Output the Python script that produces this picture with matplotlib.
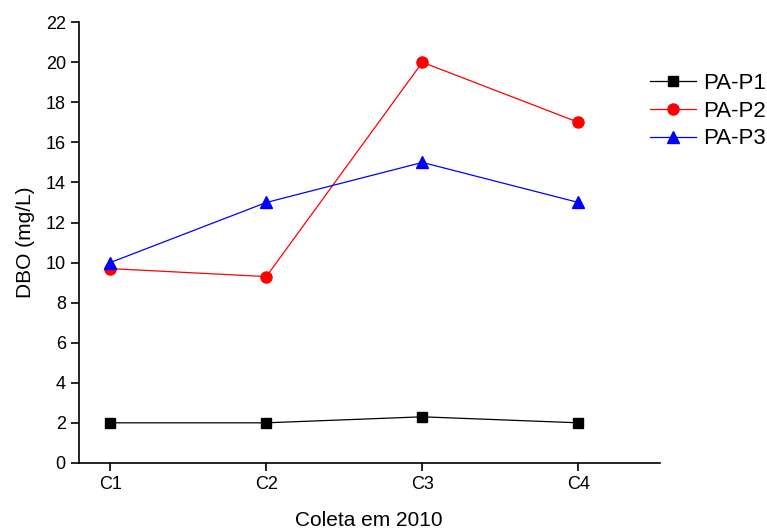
import matplotlib.pyplot as plt

# data
coletas = ['C1', 'C2', 'C3', 'C4']
pa_p1 = [2.0, 2.0, 2.3, 2.0]
pa_p2 = [9.7, 9.3, 20.0, 17.0]
pa_p3 = [10.0, 13.0, 15.0, 13.0]

plt.rcParams['font.family'] = ['Liberation Sans', 'DejaVu Sans']

fig = plt.figure(figsize=(7.67, 5.29), dpi=100)
ax = fig.add_axes([0.103, 0.125, 0.757, 0.833])

x = range(1, len(coletas) + 1)
ax.plot(x, pa_p1, color='black', marker='s', markersize=7, linewidth=0.9, label='PA-P1')
ax.plot(x, pa_p2, color='red', marker='o', markersize=8, linewidth=0.9, label='PA-P2')
ax.plot(x, pa_p3, color='blue', marker='^', markersize=8, linewidth=0.9, label='PA-P3')

ax.set_xlim(0.8, 4.52)
ax.set_ylim(0, 22)
ax.set_yticks(range(0, 23, 2))
ax.set_xticks(list(x))
ax.set_xticklabels(coletas)

for s in ['top', 'right']:
    ax.spines[s].set_visible(False)
for s in ['left', 'bottom']:
    ax.spines[s].set_linewidth(1.2)
ax.tick_params(direction='out', length=6, width=1.2, labelsize=13)

ax.set_xlabel('Coleta em 2010', fontsize=15, labelpad=13)
ax.set_ylabel('DBO (mg/L)', fontsize=15, labelpad=8)

fig.legend(loc='upper left', bbox_to_anchor=(0.847, 0.862), frameon=False,
           fontsize=16, handlelength=2.1, labelspacing=0.3, handletextpad=0.3,
           borderpad=0, borderaxespad=0)

fig.savefig('out.png', dpi=100)
